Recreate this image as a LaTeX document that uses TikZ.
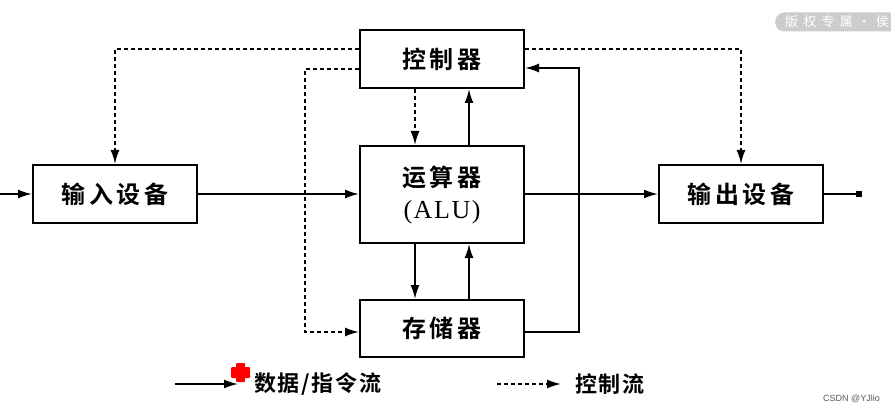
\documentclass[tikz,border=0pt]{standalone}
\usepackage{fontspec}
\setmainfont{Liberation Serif}
\newfontfamily\cjk[LetterSpace=16,BoldFont={Noto Sans CJK SC Bold}]{Noto Sans CJK SC}
\newfontfamily\cjklg[LetterSpace=8,BoldFont={Noto Sans CJK SC Bold}]{Noto Sans CJK SC}
\newfontfamily\cjkwm[LetterSpace=40]{Noto Sans CJK SC}
\newfontfamily\serifwide[LetterSpace=6]{Liberation Serif}
\newfontfamily\wmsans{Liberation Sans}
\usetikzlibrary{arrows.meta,calc}
\begin{document}
\begin{tikzpicture}[x=1pt,y=-1pt,
  box/.style={draw,line width=2pt,inner sep=0pt,minimum width=164pt,minimum height=58pt,
    font=\cjk\bfseries\fontsize{24}{32}\selectfont},
  flow/.style={line width=1.8pt,-{Latex[length=14pt,width=9pt]}},
  ctl/.style={flow,dash pattern=on 4pt off 3pt},
  lgtext/.style={anchor=west,inner sep=0pt,font=\cjklg\bfseries\fontsize{22}{22}\selectfont},
]
\useasboundingbox (0,0) rectangle (891,414);

% boxes
\node[box] (ctrl) at (442,59) {控制器};
\node[box,minimum height=97pt,align=center] (alu) at (442,194.5) {运算器\\{\serifwide\mdseries\fontsize{26}{32}\selectfont(ALU)}};
\node[box,minimum height=57pt] (mem) at (442,328.5) {存储器};
\node[box] (in) at (115,194) {输入设备};
\node[box] (out) at (741,194) {输出设备};

% helper coordinates
\coordinate (src) at (0,194);
\coordinate (sink) at (862,194);
\coordinate (jl) at (116,49);
\coordinate (jm) at (305,69);
\coordinate (jb) at (305,332);
\coordinate (cL) at (415,0);
\coordinate (cR) at (469,0);
\coordinate (fr) at (579,332);
\coordinate (ft) at (579,68);

% data flow
\draw[flow] (src) -- (in.west);
\draw[flow] (in.east) -- (alu.west |- in.east);
\draw[flow] (alu.east |- in.east) -- (out.west);
\draw[line width=1.8pt,-{Square[length=6pt,width=6pt]}] (out.east) -- (sink);
\draw[flow] (alu.north -| cR) -- (ctrl.south -| cR);
\draw[flow] (alu.south -| cL) -- (mem.north -| cL);
\draw[flow] (mem.north -| cR) -- (alu.south -| cR);
\draw[flow] (mem.east |- fr) -- (fr) -- (ft) -- (ctrl.east |- ft);

% control flow
\draw[ctl] (ctrl.west |- jl) -| (in.north);
\draw[ctl] (ctrl.east |- jl) -| (out.north);
\draw[ctl] (ctrl.west |- jm) -- (jm) -- (jb) -- (mem.west |- jb);
\draw[ctl] (ctrl.south -| cL) -- (alu.north -| cL);

% legend
\coordinate (la) at (175,384);
\coordinate (lb) at (238,384);
\coordinate (lc) at (497,384);
\coordinate (ld) at (561,384);
\draw[flow] (la) -- (lb);
\node[lgtext] (lt1) at (254,384) {数据/指令流};
\draw[ctl] (lc) -- (ld);
\node[lgtext] (lt2) at (575,384) {控制流};

% cursor mark
\fill[red,rounded corners=1pt] (236,363) rectangle (245,382);
\fill[red,rounded corners=1pt] (231,367) rectangle (250,378);

% watermarks
\node[fill=gray!40,rounded corners=9pt,text=white,anchor=west,inner xsep=10pt,inner ysep=0pt,
  minimum height=19pt,font=\cjkwm\fontsize{13}{13}\selectfont] (wm) at (775,22) {版权专属·侯};
\node[anchor=east,inner sep=0pt,text=gray!70!black,font=\wmsans\fontsize{9}{9}\selectfont] (csdn) at (880,399) {CSDN @YJlio};
\end{tikzpicture}
\end{document}
